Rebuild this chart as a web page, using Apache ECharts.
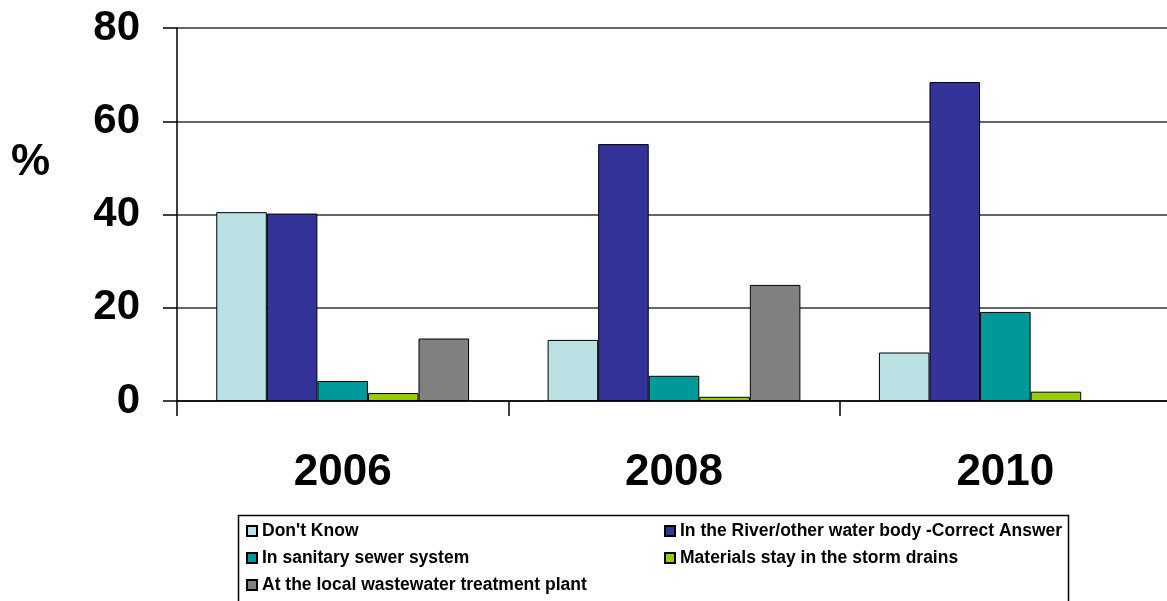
<!DOCTYPE html>
<html>
<head>
<meta charset="utf-8">
<script src="https://cdn.jsdelivr.net/npm/echarts@6/dist/echarts.min.js"></script>
<style>
html,body{margin:0;padding:0;background:#fff;}
#chart{width:1167px;height:601px;}
</style>
</head>
<body>
<div id="chart"></div>
<script>
const years = ['2006', '2008', '2010'];
const dontKnow = [40.5, 13.1, 10.4];
const river = [40.2, 55.1, 68.4];
const sanitary = [4.3, 5.4, 19.1];
const stormDrains = [1.7, 0.9, 2.0];
const treatmentPlant = [13.4, 24.9, null];
const yTicks = [0, 20, 40, 60, 80];

const names = [
  "Don't Know",
  'In the River/other water body -Correct Answer',
  'In sanitary sewer system',
  'Materials stay in the storm drains',
  'At the local wastewater treatment plant'
];
const colors = ['#BBE0E3', '#333399', '#009999', '#99CC00', '#808080'];
const dataSets = [dontKnow, river, sanitary, stormDrains, treatmentPlant];

const FONT = '"Liberation Sans", Arial, sans-serif';

const chart = echarts.init(document.getElementById('chart'), null, {renderer: 'canvas'});

const legendText = {fontFamily: FONT, fontWeight: 'bold', fontSize: 17.5, color: '#000'};

chart.setOption({
  animation: false,
  backgroundColor: '#fff',
  grid: {left: 177, width: 994, top: 28, bottom: 200, containLabel: false, outerBoundsMode: 'none'},
  xAxis: {
    type: 'category',
    data: years,
    boundaryGap: true,
    axisLine: {show: true, lineStyle: {color: '#000', width: 1.5}},
    axisTick: {show: true, inside: false, length: 15, lineStyle: {color: '#000', width: 1.5}},
    axisLabel: {margin: 50, fontFamily: FONT, fontWeight: 'bold', fontSize: 44, color: '#000'}
  },
  yAxis: {
    type: 'value',
    min: yTicks[0],
    max: yTicks[yTicks.length - 1],
    interval: 20,
    axisLine: {show: true, lineStyle: {color: '#000', width: 1.5}},
    axisTick: {show: true, inside: false, length: 14, lineStyle: {color: '#000', width: 1.5}},
    axisLabel: {margin: 37, fontFamily: FONT, fontWeight: 'bold', fontSize: 42, color: '#000'},
    splitLine: {show: true, lineStyle: {color: '#333', width: 1.5}}
  },
  legend: [
    {
      orient: 'vertical',
      left: 241,
      top: 517,
      height: 120,
      itemWidth: 10,
      itemHeight: 10,
      itemGap: 9,
      icon: 'rect',
      textStyle: legendText,
      data: [names[0], names[2], names[4]]
    },
    {
      orient: 'vertical',
      left: 659,
      top: 517,
      height: 120,
      itemWidth: 10,
      itemHeight: 10,
      itemGap: 9,
      icon: 'rect',
      textStyle: legendText,
      data: [names[1], names[3]]
    }
  ],
  graphic: [
    {
      type: 'rect',
      left: 236,
      top: 513,
      shape: {width: 830, height: 100},
      style: {fill: 'none', stroke: '#000', lineWidth: 1.5},
      z: -1
    },
    {
      type: 'text',
      left: 11,
      top: 141,
      style: {text: '%', font: 'bold 44px ' + FONT, fill: '#000'}
    }
  ],
  series: names.map((n, i) => ({
    name: n,
    type: 'bar',
    data: dataSets[i],
    barGap: '0%',
    barCategoryGap: '23.7%',
    itemStyle: {color: colors[i], borderColor: '#000', borderWidth: 1}
  }))
});
</script>
</body>
</html>
